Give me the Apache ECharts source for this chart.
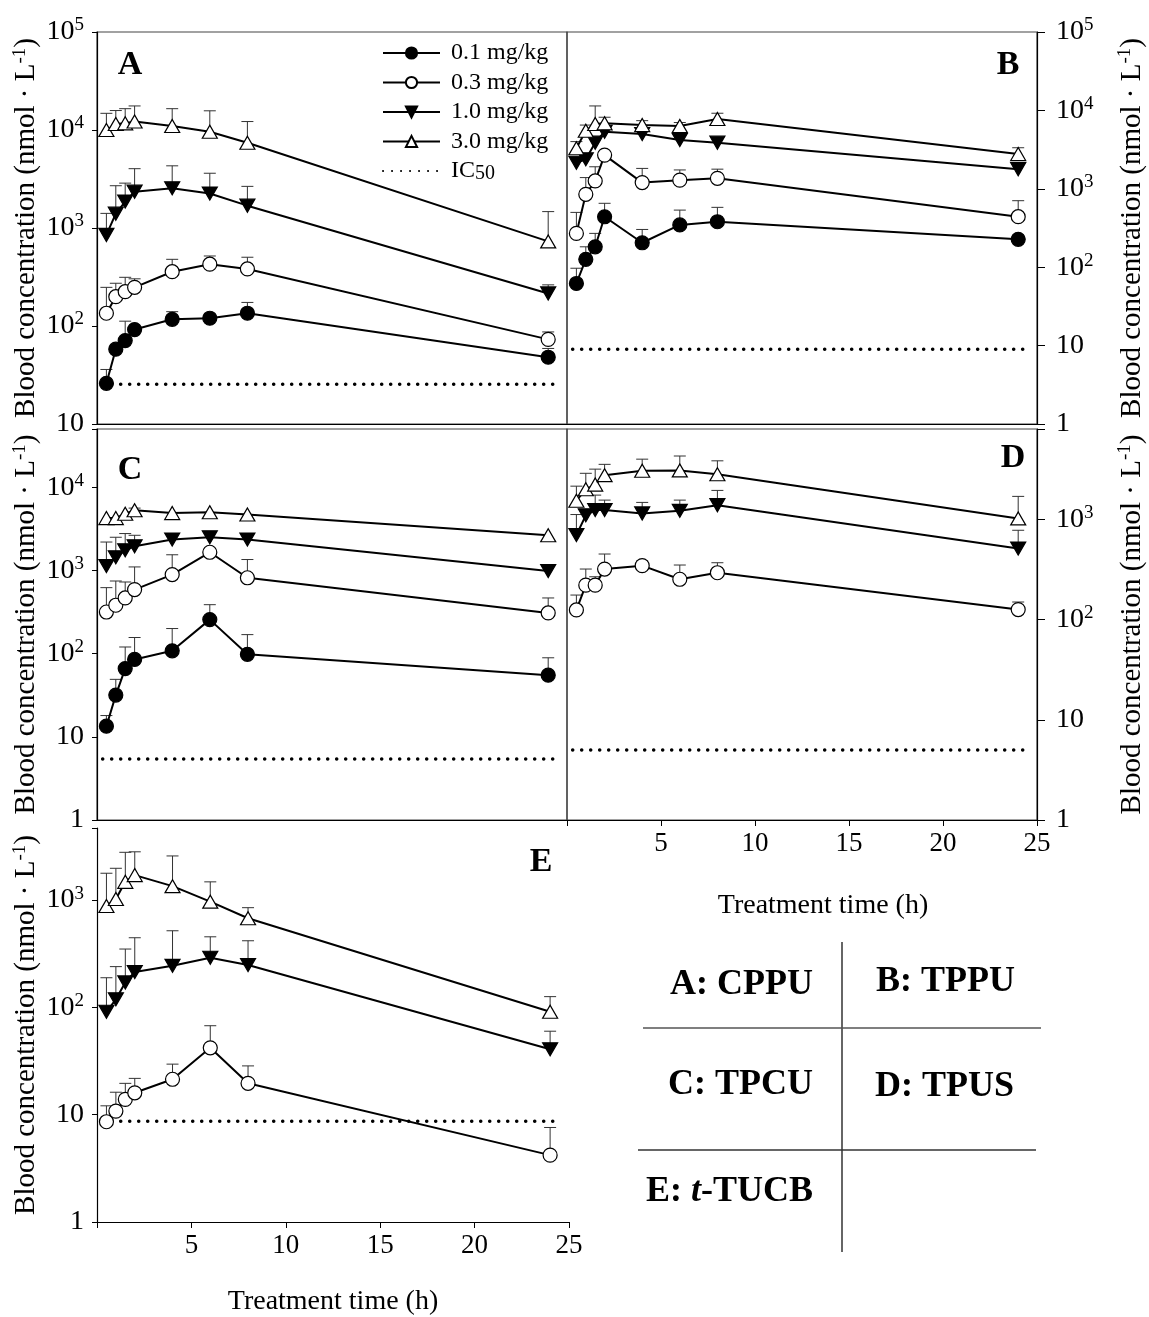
<!DOCTYPE html>
<html>
<head>
<meta charset="utf-8">
<script src="https://cdn.jsdelivr.net/npm/echarts@6/dist/echarts.min.js"></script>
<style>
  html, body { margin: 0; padding: 0; background: #fff; }
  #mainChart { width: 1149px; height: 1317px; }
</style>
</head>
<body>
<div id="mainChart"></div>
<script>
// sampling times (h) and dose groups
var times = [0.5, 1, 1.5, 2, 4, 6, 8, 24];
var doses = ['0.1 mg/kg', '0.3 mg/kg', '1.0 mg/kg', '3.0 mg/kg'];
var xTicks = [5, 10, 15, 20, 25];
var icSpan = [0.3, 24.6];

// A: CPPU  (mean, upper end of SD bar)
var a01 = [26, 58, 71, 92, 117, 120, 135, 48];
var a01Up = [36, null, 112, null, 140, 126, 174, 59];
var a03 = [135, 199, 224, 248, 358, 427, 382, 73];
var a03Up = [248, 273, 314, 303, 479, 518, 503, 87];
var a10 = [850, 1400, 1860, 2350, 2540, 2250, 1690, 215];
var a10Up = [1410, 2700, 2870, 4030, 4310, 3620, 2660, 263];
var a30 = [10000, 11500, 11700, 12200, 11000, 9600, 7400, 730];
var a30Up = [14800, 15800, 16500, 17600, 16500, 15700, 12200, 1470];
var aIC50 = 25.4;

// B: TPPU
var b01 = [62, 126, 182, 440, 205, 346, 380, 227];
var b01Up = [97, 182, 270, 653, 303, 535, 580, null];
var b03 = [270, 850, 1260, 2690, 1200, 1290, 1360, 441];
var b03Up = [500, 1390, 1910, null, 1820, 1740, 1780, 705];
var b10 = [2150, 2380, 3880, 5350, 5000, 4180, 3880, 1780];
var b10Up = [null, 2700, null, null, null, null, null, null];
var b30 = [3290, 5500, 6700, 6840, 6500, 6330, 7770, 2770];
var b30Up = [4000, 6500, 11400, 8180, 7400, 7000, 9200, 3340];
var bIC50 = 9;

// C: TPCU
var c01 = [13.4, 31.7, 66, 85, 108, 256, 98, 55];
var c01Up = [18, 49, 120, 156, 200, 387, 169, 89];
var c03 = [316, 381, 466, 588, 890, 1650, 815, 308];
var c03Up = [620, 745, 725, 1100, 1540, null, 1350, 466];
var c10 = [1130, 1440, 1740, 1950, 2350, 2500, 2350, 980];
var c10Up = [2190, 2500, 2770, 2640, null, null, null, null];
var c30 = [4250, 4250, 4800, 5280, 4880, 4990, 4700, 2640];
var c30Up = [null, null, null, 5600, null, null, null, null];
var cIC50 = 5.4;

// D: TPUS
var d03 = [125, 221, 221, 320, 346, 253, 294, 126];
var d03Up = [176, 320, 268, 452, 385, 351, 370, 150];
var d10 = [700, 1100, 1240, 1240, 1150, 1220, 1390, 513];
var d10Up = [1120, null, 1750, 1560, 1480, 1560, 1950, 780];
var d30 = [1540, 2000, 2230, 2770, 3060, 3090, 2830, 1025];
var d30Up = [2150, 2890, 3180, 3550, 4000, 4300, 3850, 1700];
var dIC50 = 5.0;

// E: t-TUCB
var e03 = [8.6, 10.8, 13.9, 16.0, 21.4, 42, 19.6, 4.2];
var e03Up = [12.1, 16.2, 19.6, 21.8, 29.6, 67.5, 28.5, 7.6];
var e10 = [91, 119, 171, 214, 244, 290, 248, 40.7];
var e10Up = [189, 240, 350, 446, 518, 455, 418, 60];
var e30 = [881, 1025, 1480, 1710, 1350, 967, 677, 91];
var e30Up = [1780, 1980, 2790, 2820, 2580, 1480, 850, 126];
var eIC50 = 8.7;

var serif = 'Liberation Serif';
var chart = echarts.init(document.getElementById('mainChart'));

var symStyles = [
  { symbol: 'circle', size: 14, rotate: 0, fill: '#000' },
  { symbol: 'circle', size: 14, rotate: 0, fill: '#fff' },
  { symbol: 'triangle', size: [15, 13], rotate: 180, fill: '#000' },
  { symbol: 'triangle', size: [15, 13], rotate: 0, fill: '#fff' }
];

function errBar(params, api) {
  var p0 = api.coord([api.value(0), api.value(1)]);
  var p1 = api.coord([api.value(0), api.value(2)]);
  var st = { stroke: '#333', lineWidth: 1 };
  return {
    type: 'group',
    children: [
      { type: 'line', shape: { x1: p0[0], y1: p0[1], x2: p1[0], y2: p1[1] }, style: st },
      { type: 'line', shape: { x1: p1[0] - 6, y1: p1[1], x2: p1[0] + 6, y2: p1[1] }, style: st }
    ]
  };
}

var series = [];
function addPanel(g, means, ups, ic) {
  means.forEach(function (m, k) {
    if (!m) return;
    var s = symStyles[k];
    series.push({
      name: doses[k], type: 'line', xAxisIndex: g, yAxisIndex: g, z: 3,
      data: times.map(function (t, i) { return [t, m[i]]; }),
      symbol: s.symbol, symbolSize: s.size, symbolRotate: s.rotate,
      itemStyle: { color: s.fill, borderColor: '#000', borderWidth: 1.2 },
      lineStyle: { color: '#000', width: 2 }
    });
    var ed = [];
    times.forEach(function (t, i) {
      if (ups[k] && ups[k][i] != null) ed.push([t, m[i], ups[k][i]]);
    });
    series.push({
      type: 'custom', xAxisIndex: g, yAxisIndex: g, z: 2, silent: true,
      renderItem: errBar, data: ed
    });
  });
  series.push({
    name: 'IC50', type: 'line', xAxisIndex: g, yAxisIndex: g, z: 1,
    data: [[icSpan[0], ic], [icSpan[1], ic]],
    symbol: 'none',
    itemStyle: { color: 'rgba(0,0,0,0)', borderWidth: 0 },
    lineStyle: { color: '#000', width: 3.5, type: [0.1, 8.9], cap: 'round' }
  });
}

addPanel(0, [a01, a03, a10, a30], [a01Up, a03Up, a10Up, a30Up], aIC50);
addPanel(1, [b01, b03, b10, b30], [b01Up, b03Up, b10Up, b30Up], bIC50);
addPanel(2, [c01, c03, c10, c30], [c01Up, c03Up, c10Up, c30Up], cIC50);
addPanel(3, [null, d03, d10, d30], [null, d03Up, d10Up, d30Up], dIC50);
addPanel(4, [null, e03, e10, e30], [null, e03Up, e10Up, e30Up], eIC50);

function powLabel(v) {
  var lg = Math.log10(v), e = Math.round(lg);
  if (Math.abs(lg - e) > 1e-6) return '';
  if (e === 0) return '{b|1}';
  if (e === 1) return '{b|10}';
  return '{b|10}{s|' + e + '}';
}

var tickRich = {
  b: { fontSize: 28, lineHeight: 32, fontFamily: serif, color: '#000' },
  s: { fontSize: 19, lineHeight: 15, verticalAlign: 'top', fontFamily: serif, color: '#000' }
};

function yAx(g, min, max, pos, gap) {
  return {
    type: 'log', logBase: 10, gridIndex: g, min: min, max: max, interval: 1,
    position: pos,
    name: 'Blood concentration (nmol · L{s|-1})',
    nameLocation: 'middle', nameRotate: 90, nameGap: gap,
    nameTextStyle: {
      fontSize: 29, fontFamily: serif, color: '#000', lineHeight: 32,
      rich: { s: { fontSize: 19, lineHeight: 14, verticalAlign: 'top', fontFamily: serif, color: '#000' } }
    },
    axisLine: { show: true, onZero: false, lineStyle: { color: '#000', width: 1.2 } },
    axisTick: { show: true, length: pos === 'right' ? 8 : 5, lineStyle: { color: '#000' } },
    minorTick: { show: false },
    splitLine: { show: false },
    axisLabel: { formatter: powLabel, rich: tickRich, margin: pos === 'right' ? 19 : 13 }
  };
}

function xAx(g, labels, name, gap, pad) {
  return {
    type: 'value', gridIndex: g, min: 0, max: 25, interval: 5,
    name: name, nameLocation: 'middle', nameGap: gap,
    nameTextStyle: { fontSize: 28, fontFamily: serif, color: '#000', padding: pad || 0 },
    axisLine: { show: true, onZero: false, lineStyle: { color: '#000', width: 1.2 } },
    axisTick: { show: labels, length: 6, lineStyle: { color: '#000' } },
    splitLine: { show: false },
    axisLabel: {
      show: labels, fontSize: 27, fontFamily: serif, color: '#000', margin: 10,
      formatter: function (v) { return xTicks.indexOf(v) >= 0 ? String(v) : ''; }
    }
  };
}

var gridBorder = { show: true, borderColor: '#444', borderWidth: 1.2 };

var option = {
  animation: false,
  backgroundColor: '#fff',
  grid: [
    Object.assign({ left: 97, top: 32, width: 470, height: 392 }, gridBorder),
    Object.assign({ left: 567, top: 32, width: 475, height: 392 }, gridBorder),
    Object.assign({ left: 97, top: 429, width: 470, height: 391 }, gridBorder),
    Object.assign({ left: 567, top: 429, width: 475, height: 391 }, gridBorder),
    { left: 97, top: 828, width: 472, height: 394, show: false }
  ],
  xAxis: [
    xAx(0, false, '', 0),
    xAx(1, false, '', 0),
    xAx(2, false, '', 0),
    xAx(3, true, 'Treatment time (h)', 72, [0, 0, 0, 42]),
    xAx(4, true, 'Treatment time (h)', 66)
  ],
  yAxis: [
    yAx(0, 10, 100000, 'left', 48),
    yAx(1, 1, 100000, 'right', 79),
    yAx(2, 1, 50000, 'left', 48),
    yAx(3, 1, 8000, 'right', 79),
    yAx(4, 1, 4700, 'left', 48)
  ],
  legend: {
    data: doses.concat(['IC50']),
    orient: 'vertical', left: 377, top: 36,
    itemWidth: 57, itemHeight: 14, itemGap: 5.5,
    selectedMode: false,
    formatter: function (n) { return n === 'IC50' ? '{t|IC}{u|50}' : '{t|' + n + '}'; },
    textStyle: {
      padding: [0, 0, 0, 6],
      rich: {
        t: { fontSize: 24, lineHeight: 26, fontFamily: serif, color: '#000' },
        u: { fontSize: 20, lineHeight: 12, verticalAlign: 'bottom', fontFamily: serif, color: '#000' }
      }
    }
  },
  graphic: [
    { type: 'text', x: 130, y: 65, style: { text: 'A', fontSize: 34, fontWeight: 'bold', fontFamily: serif, fill: '#000', align: 'center', verticalAlign: 'middle' } },
    { type: 'text', x: 1008, y: 65, style: { text: 'B', fontSize: 34, fontWeight: 'bold', fontFamily: serif, fill: '#000', align: 'center', verticalAlign: 'middle' } },
    { type: 'text', x: 130, y: 470, style: { text: 'C', fontSize: 34, fontWeight: 'bold', fontFamily: serif, fill: '#000', align: 'center', verticalAlign: 'middle' } },
    { type: 'text', x: 1013, y: 458, style: { text: 'D', fontSize: 34, fontWeight: 'bold', fontFamily: serif, fill: '#000', align: 'center', verticalAlign: 'middle' } },
    { type: 'text', x: 541, y: 862, style: { text: 'E', fontSize: 34, fontWeight: 'bold', fontFamily: serif, fill: '#000', align: 'center', verticalAlign: 'middle' } },
    // compound key table
    { type: 'line', shape: { x1: 842, y1: 942, x2: 842, y2: 1252 }, style: { stroke: '#333', lineWidth: 1.5 } },
    { type: 'line', shape: { x1: 643, y1: 1028, x2: 1041, y2: 1028 }, style: { stroke: '#555', lineWidth: 1.5 } },
    { type: 'line', shape: { x1: 638, y1: 1150, x2: 1036, y2: 1150 }, style: { stroke: '#333', lineWidth: 1.5 } },
    { type: 'text', x: 813, y: 985, style: { text: 'A: CPPU', fontSize: 36, fontWeight: 'bold', fontFamily: serif, fill: '#000', align: 'right', verticalAlign: 'middle' } },
    { type: 'text', x: 876, y: 982, style: { text: 'B: TPPU', fontSize: 36, fontWeight: 'bold', fontFamily: serif, fill: '#000', align: 'left', verticalAlign: 'middle' } },
    { type: 'text', x: 813, y: 1085, style: { text: 'C: TPCU', fontSize: 36, fontWeight: 'bold', fontFamily: serif, fill: '#000', align: 'right', verticalAlign: 'middle' } },
    { type: 'text', x: 875, y: 1087, style: { text: 'D: TPUS', fontSize: 36, fontWeight: 'bold', fontFamily: serif, fill: '#000', align: 'left', verticalAlign: 'middle' } },
    { type: 'text', x: 813, y: 1192, style: {
        text: '{b|E: }{i|t}{b|-TUCB}', align: 'right', verticalAlign: 'middle',
        rich: {
          b: { fontSize: 36, fontWeight: 'bold', fontFamily: serif, fill: '#000' },
          i: { fontSize: 36, fontWeight: 'bold', fontStyle: 'italic', fontFamily: serif, fill: '#000' }
        } } }
  ],
  series: series
};

chart.setOption(option);
</script>
</body>
</html>
